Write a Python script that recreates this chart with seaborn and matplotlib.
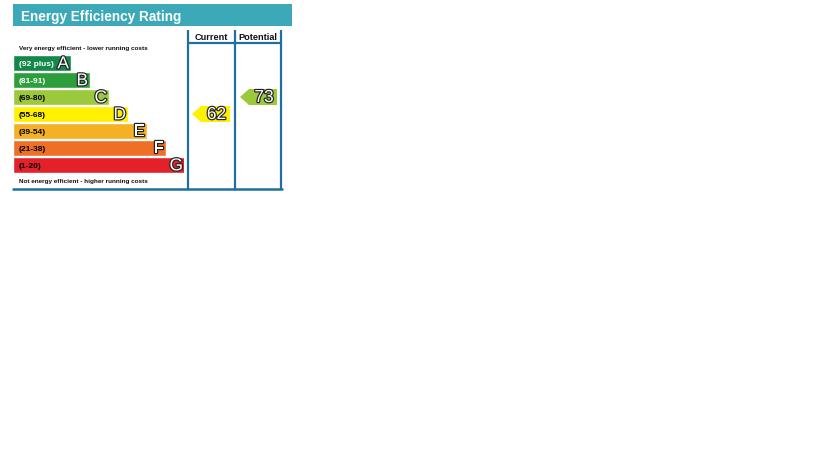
import matplotlib
matplotlib.use("Agg")
import matplotlib.pyplot as plt
import matplotlib.patheffects as pe
from matplotlib.patches import Polygon, Rectangle
import seaborn as sns
import pandas as pd

# band data
letters = ["A", "B", "C", "D", "E", "F", "G"]
ranges = ["(92 plus)", "(81-91)", "(69-80)", "(55-68)", "(39-54)", "(21-38)", "(1-20)"]
band_colors = ["#13884a", "#2c9e3c", "#9bc93c", "#fff100", "#f6b023", "#ee6f26", "#e4202b"]
label_colors = ["white", "white", "black", "black", "black", "black", "black"]
band_min = [92, 81, 69, 55, 39, 21, 1]

current = 62
potential = 73

title = "Energy Efficiency Rating"
top_note = "Very energy efficient - lower running costs"
bottom_note = "Not energy efficient - higher running costs"

sns.set_theme(style="white")
plt.rcParams["font.family"] = ["Liberation Sans", "DejaVu Sans"]

W, H = 819, 460
fig = plt.figure(figsize=(W / 100, H / 100), dpi=100)

# background axes in pixel coords for the frame
bg = fig.add_axes([0, 0, 1, 1])
bg.set_xlim(0, W)
bg.set_ylim(H, 0)
bg.axis("off")

teal = "#3ba9b8"
blue = "#1f6f9f"
bg.add_patch(Rectangle((13, 5), 279, 22, color=teal, lw=0))
bg.text(21, 16.5, title, color="white", fontsize=9.8, fontweight="bold", va="center", ha="left")

for x in [188, 235, 281]:
    bg.plot([x, x], [31, 190], color=blue, lw=1.6, solid_capstyle="butt")
bg.plot([188, 281], [43.5, 43.5], color=blue, lw=1.6)
bg.plot([13, 282], [189.5, 189.5], color=blue, lw=1.8)
bg.text(211.5, 37.5, "Current", fontsize=6.6, fontweight="bold", ha="center", va="center", color="#111111")
bg.text(258, 37.5, "Potential", fontsize=6.6, fontweight="bold", ha="center", va="center", color="#111111")

bg.text(19, 48.5, top_note, fontsize=4.6, fontweight="bold", ha="left", va="center", color="#111111")
bg.text(19, 182, bottom_note, fontsize=4.6, fontweight="bold", ha="left", va="center", color="#111111")

# bands axes: 17 px per band, bars start at x=13
top, unit = 55.5, 17
left, span = 13, 171
ax = fig.add_axes([left / W, 1 - (top + unit * 7) / H, span / W, unit * 7 / H])
ax.patch.set_alpha(0)
lengths = [58 + 19 * i for i in range(len(letters))]
df = pd.DataFrame({"letter": letters, "length": lengths})
sns.barplot(data=df, x="length", y="letter", hue="letter", palette=band_colors,
            order=letters, hue_order=letters, legend=False, saturation=1,
            width=16 / 17, ax=ax, orient="h")
ax.set_xlim(0, span)
ax.set_ylim(6.5, -0.5)
ax.axis("off")

outline = [pe.withStroke(linewidth=1.7, foreground="#222222")]
for i, (rng, letter, ln) in enumerate(zip(ranges, letters, lengths)):
    ax.text(6, i + 0.03, rng, fontsize=6, fontweight="bold", color=label_colors[i], ha="left", va="center")
    t = ax.text(ln - 2, i + 0.05, letter, fontsize=12.5, color="white", ha="right", va="center")
    t.set_path_effects(outline)


def band_of(score):
    for i, m in enumerate(band_min):
        if score >= m:
            return i
    return len(band_min) - 1


def arrow(score, x_tip, x_right):
    i = band_of(score)
    y0 = top + unit * i + 0.5
    y1 = y0 + 16
    ym = (y0 + y1) / 2
    pts = [(x_tip, ym), (x_tip + 9, y0), (x_right, y0), (x_right, y1), (x_tip + 9, y1)]
    bg.add_patch(Polygon(pts, closed=True, color=band_colors[i], lw=0))
    t = bg.text((x_tip + 9 + x_right) / 2 + 1, ym + 0.5, str(score), fontsize=12.5, color="white",
                ha="center", va="center")
    t.set_path_effects(outline)


arrow(current, 192, 230)
arrow(potential, 240, 277)

fig.savefig("out.png", dpi=100)
